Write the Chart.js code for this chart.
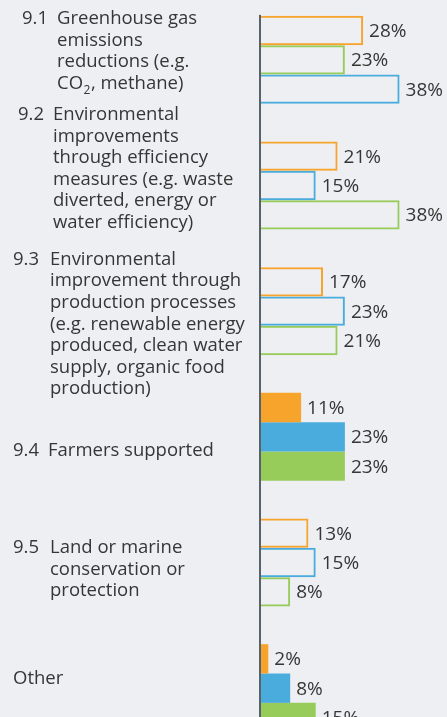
<!DOCTYPE html>
<html><head><meta charset="utf-8">
<script src="https://cdn.jsdelivr.net/npm/chart.js@4/dist/chart.umd.min.js"></script>
<style>
html,body{margin:0;padding:0;background:#eeeff3;overflow:hidden;width:447px;height:717px;}
#wrap{position:absolute;left:0;top:-4px;width:447px;height:755px;}
</style></head><body><div id="wrap"><canvas id="c"></canvas></div>
<script>
const categories = ['9.1','9.2','9.3','9.4','9.5','Other'];
const labelNumbers = ['9.1','9.2','9.3','9.4','9.5',''];
const labelLines = [
  ['Greenhouse gas','emissions','reductions (e.g.','CO₂, methane)'],
  ['Environmental','improvements','through efficiency','measures (e.g. waste','diverted, energy or','water efficiency)'],
  ['Environmental','improvement through','production processes','(e.g. renewable energy','produced, clean water','supply, organic food','production)'],
  ['Farmers supported'],
  ['Land or marine','conservation or','protection'],
  ['Other']
];
const orangeValues = [28,21,17,11,13,2];
const blueValues   = [38,15,23,23,15,8];
const greenValues  = [23,38,21,23,8,15];
const barOrder = [
  ['orange','green','blue'],
  ['orange','blue','green'],
  ['orange','blue','green'],
  ['orange','blue','green'],
  ['orange','blue','green'],
  ['orange','blue','green']
];
const filledGroups = [false,false,false,true,false,true];

const series = {orange: orangeValues, blue: blueValues, green: greenValues};
const colors = {orange:'#f6a42c', blue:'#4aacdc', green:'#97cb5a'};
const TEXT = '#363636';
const FONT = '"Open Sans", sans-serif';

const datasets = [0,1,2].map(s => ({
  label: 'slot' + s,
  data: categories.map((c,i) => series[barOrder[i][s]][i]),
  backgroundColor: categories.map((c,i) => filledGroups[i] ? colors[barOrder[i][s]] : 'rgba(0,0,0,0)'),
  borderColor: categories.map((c,i) => colors[barOrder[i][s]]),
  borderWidth: categories.map((c,i) => filledGroups[i] ? 0 : 2),
  borderSkipped: 'start',
  categoryPercentage: 0.7,
  barPercentage: 1.0
}));

// layout constants for label text (not data)
const numX  = [22,18,13,13,13,13];
const textX = [57,53,50,48,50,13];
const blockDy = [-10,-18,12,13,5.5,-11];
const LINE_H = 21.6;

function drawRich(ctx, str, x, y) {
  const parts = str.split('₂');
  let cx = x;
  parts.forEach((p, k) => {
    ctx.font = '18.5px ' + FONT;
    ctx.fillText(p, cx, y);
    cx += ctx.measureText(p).width;
    if (k < parts.length - 1) {
      ctx.font = '12px ' + FONT;
      ctx.fillText('2', cx + 0.5, y + 5);
      cx += ctx.measureText('2').width + 1;
    }
  });
}

const labelPlugin = {
  id: 'labels',
  afterDraw(chart) {
    const ctx = chart.ctx;
    const ys = chart.scales.y;
    const xs = chart.scales.x;
    ctx.save();
    // axis line
    const first = chart.getDatasetMeta(0).data[0];
    const top = first.y - first.height / 2 - 1;
    const x0 = xs.getPixelForValue(0);
    ctx.fillStyle = '#59626a';
    ctx.fillRect(x0 - 2, top, 2, chart.height - top);
    // category labels
    ctx.fillStyle = TEXT;
    ctx.textBaseline = 'alphabetic';
    ctx.textAlign = 'left';
    categories.forEach((c, i) => {
      const cy = ys.getPixelForValue(i) + blockDy[i];
      const lines = labelLines[i];
      const y0 = cy - (lines.length - 1) * LINE_H / 2;
      if (labelNumbers[i]) {
        ctx.font = '18.5px ' + FONT;
        ctx.fillText(labelNumbers[i], numX[i], y0 + 6.5);
      }
      lines.forEach((ln, j) => drawRich(ctx, ln, textX[i], y0 + j * LINE_H + 6.5));
    });
    // value labels
    ctx.font = '19px ' + FONT;
    ctx.textBaseline = 'middle';
    chart.data.datasets.forEach((ds, d) => {
      chart.getDatasetMeta(d).data.forEach((el, i) => {
        ctx.fillText(ds.data[i] + '%', el.x + 6, el.y + 1);
      });
    });
    ctx.restore();
  }
};

new Chart(document.getElementById('c'), {
  type: 'bar',
  data: { labels: categories, datasets },
  options: {
    indexAxis: 'y',
    responsive: true,
    maintainAspectRatio: false,
    animation: false,
    layout: { padding: { left: 261, right: 0, top: 1, bottom: 0 } },
    scales: {
      x: { display: false, min: 0, max: 51 },
      y: { display: false }
    },
    plugins: { legend: { display: false }, tooltip: { enabled: false } }
  },
  plugins: [labelPlugin]
});
</script>
</body></html>
